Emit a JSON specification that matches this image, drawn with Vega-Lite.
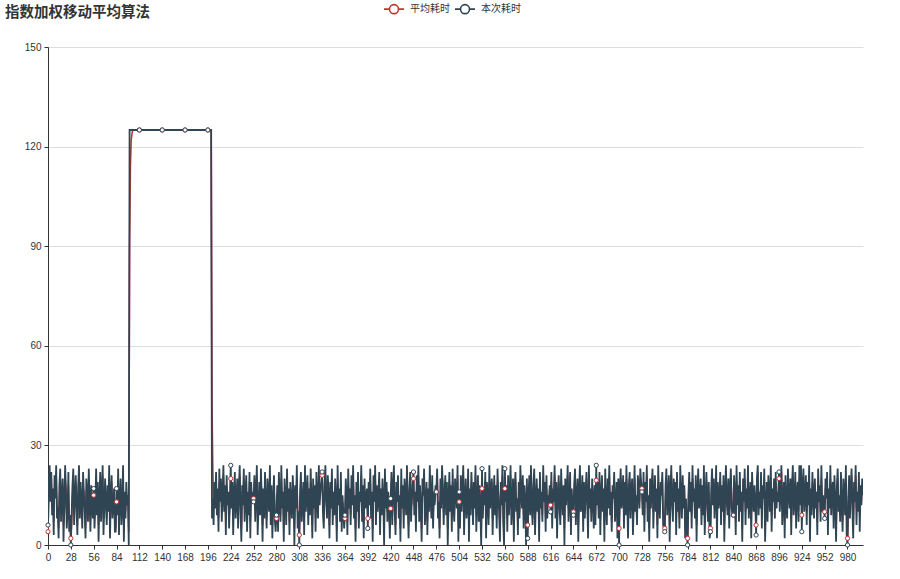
{
"$schema":"https://vega.github.io/schema/vega-lite/v6.json",
"width":815,"height":498,
"autosize":{"type":"none"},
"padding":{"left":48,"top":47,"right":37,"bottom":34},
"background":"white",
"title":{"text":"指数加权移动平均算法","anchor":"start","frame":"group","dx":-43,"dy":22,"offset":0,"fontSize":14.5,"fontWeight":"bold","font":"Noto Sans CJK SC","color":"#333"},
"data":{"values":[
{"x":0,"c":6,"a":4},{"x":1,"c":19,"a":15},{"x":2,"c":24,"a":21},{"x":3,"c":13,"a":15},{"x":4,"c":22,"a":20},{"x":5,"c":9,"a":12},{"x":6,"c":17,"a":16},{"x":7,"c":3,"a":7},{"x":8,"c":21,"a":17},{"x":9,"c":14,"a":15},
{"x":10,"c":24,"a":21},{"x":11,"c":8,"a":12},{"x":12,"c":11,"a":11},{"x":13,"c":2,"a":5},{"x":14,"c":18,"a":14},{"x":15,"c":23,"a":20},{"x":16,"c":7,"a":11},{"x":17,"c":15,"a":14},{"x":18,"c":20,"a":18},{"x":19,"c":1,"a":6},
{"x":20,"c":12,"a":10},{"x":21,"c":24,"a":20},{"x":22,"c":16,"a":17},{"x":23,"c":5,"a":9},{"x":24,"c":10,"a":10},{"x":25,"c":22,"a":18},{"x":26,"c":4,"a":8},{"x":27,"c":9,"a":9},{"x":28,"c":0,"a":2},{"x":29,"c":9,"a":7},
{"x":30,"c":18,"a":15},{"x":31,"c":23,"a":21},{"x":32,"c":6,"a":11},{"x":33,"c":14,"a":13},{"x":34,"c":21,"a":19},{"x":35,"c":11,"a":13},{"x":36,"c":3,"a":6},{"x":37,"c":17,"a":14},{"x":38,"c":24,"a":21},{"x":39,"c":8,"a":12},
{"x":40,"c":19,"a":17},{"x":41,"c":12,"a":14},{"x":42,"c":5,"a":8},{"x":43,"c":22,"a":18},{"x":44,"c":15,"a":16},{"x":45,"c":10,"a":12},{"x":46,"c":2,"a":5},{"x":47,"c":20,"a":16},{"x":48,"c":16,"a":16},{"x":49,"c":7,"a":10},
{"x":50,"c":23,"a":19},{"x":51,"c":13,"a":15},{"x":52,"c":4,"a":7},{"x":53,"c":18,"a":15},{"x":54,"c":11,"a":12},{"x":55,"c":8,"a":9},{"x":56,"c":17,"a":15},{"x":57,"c":5,"a":8},{"x":58,"c":12,"a":11},{"x":59,"c":23,"a":19},
{"x":60,"c":9,"a":12},{"x":61,"c":19,"a":17},{"x":62,"c":1,"a":6},{"x":63,"c":14,"a":12},{"x":64,"c":22,"a":19},{"x":65,"c":7,"a":11},{"x":66,"c":16,"a":15},{"x":67,"c":24,"a":21},{"x":68,"c":3,"a":8},{"x":69,"c":11,"a":10},
{"x":70,"c":20,"a":17},{"x":71,"c":13,"a":14},{"x":72,"c":6,"a":8},{"x":73,"c":18,"a":15},{"x":74,"c":10,"a":12},{"x":75,"c":24,"a":20},{"x":76,"c":2,"a":7},{"x":77,"c":15,"a":13},{"x":78,"c":21,"a":19},{"x":79,"c":8,"a":11},
{"x":80,"c":12,"a":12},{"x":81,"c":17,"a":16},{"x":82,"c":4,"a":8},{"x":83,"c":4,"a":5},{"x":84,"c":17,"a":13},{"x":85,"c":9,"a":10},{"x":86,"c":23,"a":19},{"x":87,"c":3,"a":8},{"x":88,"c":14,"a":12},{"x":89,"c":20,"a":18},
{"x":90,"c":6,"a":10},{"x":91,"c":11,"a":11},{"x":92,"c":24,"a":20},{"x":93,"c":1,"a":7},{"x":94,"c":16,"a":13},{"x":95,"c":8,"a":10},{"x":96,"c":19,"a":16},{"x":97,"c":12,"a":13},{"x":98,"c":15,"a":14},{"x":99,"c":0,"a":4},
{"x":100,"c":125,"a":89},{"x":101,"c":125,"a":114},{"x":102,"c":125,"a":122},{"x":103,"c":125,"a":124},{"x":104,"c":125,"a":125},{"x":105,"c":125,"a":125},{"x":106,"c":125,"a":125},{"x":107,"c":125,"a":125},{"x":108,"c":125,"a":125},{"x":109,"c":125,"a":125},
{"x":110,"c":125,"a":125},{"x":111,"c":125,"a":125},{"x":112,"c":125,"a":125},{"x":113,"c":125,"a":125},{"x":114,"c":125,"a":125},{"x":115,"c":125,"a":125},{"x":116,"c":125,"a":125},{"x":117,"c":125,"a":125},{"x":118,"c":125,"a":125},{"x":119,"c":125,"a":125},
{"x":120,"c":125,"a":125},{"x":121,"c":125,"a":125},{"x":122,"c":125,"a":125},{"x":123,"c":125,"a":125},{"x":124,"c":125,"a":125},{"x":125,"c":125,"a":125},{"x":126,"c":125,"a":125},{"x":127,"c":125,"a":125},{"x":128,"c":125,"a":125},{"x":129,"c":125,"a":125},
{"x":130,"c":125,"a":125},{"x":131,"c":125,"a":125},{"x":132,"c":125,"a":125},{"x":133,"c":125,"a":125},{"x":134,"c":125,"a":125},{"x":135,"c":125,"a":125},{"x":136,"c":125,"a":125},{"x":137,"c":125,"a":125},{"x":138,"c":125,"a":125},{"x":139,"c":125,"a":125},
{"x":140,"c":125,"a":125},{"x":141,"c":125,"a":125},{"x":142,"c":125,"a":125},{"x":143,"c":125,"a":125},{"x":144,"c":125,"a":125},{"x":145,"c":125,"a":125},{"x":146,"c":125,"a":125},{"x":147,"c":125,"a":125},{"x":148,"c":125,"a":125},{"x":149,"c":125,"a":125},
{"x":150,"c":125,"a":125},{"x":151,"c":125,"a":125},{"x":152,"c":125,"a":125},{"x":153,"c":125,"a":125},{"x":154,"c":125,"a":125},{"x":155,"c":125,"a":125},{"x":156,"c":125,"a":125},{"x":157,"c":125,"a":125},{"x":158,"c":125,"a":125},{"x":159,"c":125,"a":125},
{"x":160,"c":125,"a":125},{"x":161,"c":125,"a":125},{"x":162,"c":125,"a":125},{"x":163,"c":125,"a":125},{"x":164,"c":125,"a":125},{"x":165,"c":125,"a":125},{"x":166,"c":125,"a":125},{"x":167,"c":125,"a":125},{"x":168,"c":125,"a":125},{"x":169,"c":125,"a":125},
{"x":170,"c":125,"a":125},{"x":171,"c":125,"a":125},{"x":172,"c":125,"a":125},{"x":173,"c":125,"a":125},{"x":174,"c":125,"a":125},{"x":175,"c":125,"a":125},{"x":176,"c":125,"a":125},{"x":177,"c":125,"a":125},{"x":178,"c":125,"a":125},{"x":179,"c":125,"a":125},
{"x":180,"c":125,"a":125},{"x":181,"c":125,"a":125},{"x":182,"c":125,"a":125},{"x":183,"c":125,"a":125},{"x":184,"c":125,"a":125},{"x":185,"c":125,"a":125},{"x":186,"c":125,"a":125},{"x":187,"c":125,"a":125},{"x":188,"c":125,"a":125},{"x":189,"c":125,"a":125},
{"x":190,"c":125,"a":125},{"x":191,"c":125,"a":125},{"x":192,"c":125,"a":125},{"x":193,"c":125,"a":125},{"x":194,"c":125,"a":125},{"x":195,"c":125,"a":125},{"x":196,"c":125,"a":125},{"x":197,"c":125,"a":125},{"x":198,"c":125,"a":125},{"x":199,"c":125,"a":125},
{"x":200,"c":125,"a":125},{"x":201,"c":8,"a":43},{"x":202,"c":14,"a":23},{"x":203,"c":6,"a":11},{"x":204,"c":19,"a":17},{"x":205,"c":11,"a":13},{"x":206,"c":22,"a":19},{"x":207,"c":9,"a":12},{"x":208,"c":17,"a":16},{"x":209,"c":4,"a":8},
{"x":210,"c":23,"a":19},{"x":211,"c":13,"a":15},{"x":212,"c":20,"a":19},{"x":213,"c":7,"a":11},{"x":214,"c":15,"a":14},{"x":215,"c":24,"a":21},{"x":216,"c":10,"a":13},{"x":217,"c":18,"a":17},{"x":218,"c":3,"a":7},{"x":219,"c":21,"a":17},
{"x":220,"c":12,"a":14},{"x":221,"c":16,"a":15},{"x":222,"c":5,"a":8},{"x":223,"c":14,"a":12},{"x":224,"c":24,"a":20},{"x":225,"c":11,"a":14},{"x":226,"c":19,"a":18},{"x":227,"c":3,"a":8},{"x":228,"c":15,"a":13},{"x":229,"c":22,"a":19},
{"x":230,"c":8,"a":11},{"x":231,"c":13,"a":12},{"x":232,"c":20,"a":18},{"x":233,"c":5,"a":9},{"x":234,"c":17,"a":15},{"x":235,"c":24,"a":21},{"x":236,"c":10,"a":13},{"x":237,"c":1,"a":5},{"x":238,"c":18,"a":14},{"x":239,"c":12,"a":13},
{"x":240,"c":23,"a":20},{"x":241,"c":7,"a":11},{"x":242,"c":14,"a":13},{"x":243,"c":21,"a":19},{"x":244,"c":4,"a":9},{"x":245,"c":16,"a":14},{"x":246,"c":9,"a":11},{"x":247,"c":22,"a":19},{"x":248,"c":2,"a":7},{"x":249,"c":19,"a":15},
{"x":250,"c":13,"a":14},{"x":251,"c":16,"a":15},{"x":252,"c":13,"a":14},{"x":253,"c":21,"a":19},{"x":254,"c":7,"a":11},{"x":255,"c":16,"a":15},{"x":256,"c":24,"a":21},{"x":257,"c":3,"a":8},{"x":258,"c":11,"a":10},{"x":259,"c":19,"a":16},
{"x":260,"c":9,"a":11},{"x":261,"c":23,"a":19},{"x":262,"c":14,"a":16},{"x":263,"c":1,"a":6},{"x":264,"c":17,"a":14},{"x":265,"c":8,"a":10},{"x":266,"c":22,"a":18},{"x":267,"c":12,"a":14},{"x":268,"c":5,"a":8},{"x":269,"c":20,"a":16},
{"x":270,"c":15,"a":15},{"x":271,"c":10,"a":12},{"x":272,"c":24,"a":20},{"x":273,"c":6,"a":10},{"x":274,"c":18,"a":16},{"x":275,"c":2,"a":6},{"x":276,"c":13,"a":11},{"x":277,"c":21,"a":18},{"x":278,"c":8,"a":11},{"x":279,"c":4,"a":6},
{"x":280,"c":9,"a":8},{"x":281,"c":18,"a":15},{"x":282,"c":4,"a":7},{"x":283,"c":22,"a":18},{"x":284,"c":13,"a":15},{"x":285,"c":7,"a":9},{"x":286,"c":24,"a":20},{"x":287,"c":11,"a":14},{"x":288,"c":16,"a":15},{"x":289,"c":1,"a":5},
{"x":290,"c":20,"a":16},{"x":291,"c":14,"a":15},{"x":292,"c":6,"a":9},{"x":293,"c":23,"a":19},{"x":294,"c":10,"a":13},{"x":295,"c":17,"a":16},{"x":296,"c":3,"a":7},{"x":297,"c":19,"a":15},{"x":298,"c":12,"a":13},{"x":299,"c":8,"a":10},
{"x":300,"c":21,"a":18},{"x":301,"c":15,"a":16},{"x":302,"c":0,"a":5},{"x":303,"c":18,"a":14},{"x":304,"c":11,"a":12},{"x":305,"c":24,"a":20},{"x":306,"c":5,"a":10},{"x":307,"c":10,"a":10},{"x":308,"c":0,"a":3},{"x":309,"c":16,"a":12},
{"x":310,"c":22,"a":19},{"x":311,"c":7,"a":11},{"x":312,"c":12,"a":12},{"x":313,"c":19,"a":17},{"x":314,"c":3,"a":7},{"x":315,"c":24,"a":19},{"x":316,"c":10,"a":13},{"x":317,"c":15,"a":14},{"x":318,"c":21,"a":19},{"x":319,"c":6,"a":10},
{"x":320,"c":17,"a":15},{"x":321,"c":9,"a":11},{"x":322,"c":23,"a":19},{"x":323,"c":13,"a":15},{"x":324,"c":2,"a":6},{"x":325,"c":20,"a":16},{"x":326,"c":11,"a":13},{"x":327,"c":18,"a":17},{"x":328,"c":4,"a":8},{"x":329,"c":22,"a":18},
{"x":330,"c":14,"a":15},{"x":331,"c":8,"a":10},{"x":332,"c":24,"a":20},{"x":333,"c":12,"a":14},{"x":334,"c":17,"a":16},{"x":335,"c":19,"a":18},{"x":336,"c":22,"a":21},{"x":337,"c":10,"a":13},{"x":338,"c":5,"a":7},{"x":339,"c":18,"a":15},
{"x":340,"c":24,"a":21},{"x":341,"c":13,"a":15},{"x":342,"c":8,"a":10},{"x":343,"c":21,"a":18},{"x":344,"c":15,"a":16},{"x":345,"c":2,"a":6},{"x":346,"c":19,"a":15},{"x":347,"c":11,"a":12},{"x":348,"c":23,"a":20},{"x":349,"c":6,"a":10},
{"x":350,"c":16,"a":14},{"x":351,"c":9,"a":11},{"x":352,"c":20,"a":17},{"x":353,"c":14,"a":15},{"x":354,"c":1,"a":5},{"x":355,"c":24,"a":18},{"x":356,"c":12,"a":14},{"x":357,"c":17,"a":16},{"x":358,"c":7,"a":10},{"x":359,"c":22,"a":18},
{"x":360,"c":4,"a":8},{"x":361,"c":15,"a":13},{"x":362,"c":10,"a":11},{"x":363,"c":5,"a":7},{"x":364,"c":9,"a":8},{"x":365,"c":20,"a":16},{"x":366,"c":14,"a":15},{"x":367,"c":3,"a":7},{"x":368,"c":23,"a":18},{"x":369,"c":11,"a":13},
{"x":370,"c":17,"a":16},{"x":371,"c":6,"a":9},{"x":372,"c":21,"a":17},{"x":373,"c":12,"a":14},{"x":374,"c":24,"a":21},{"x":375,"c":8,"a":12},{"x":376,"c":15,"a":14},{"x":377,"c":1,"a":5},{"x":378,"c":19,"a":15},{"x":379,"c":10,"a":12},
{"x":380,"c":22,"a":19},{"x":381,"c":5,"a":9},{"x":382,"c":16,"a":14},{"x":383,"c":13,"a":13},{"x":384,"c":24,"a":21},{"x":385,"c":7,"a":11},{"x":386,"c":18,"a":16},{"x":387,"c":2,"a":6},{"x":388,"c":20,"a":16},{"x":389,"c":11,"a":13},
{"x":390,"c":14,"a":14},{"x":391,"c":17,"a":16},{"x":392,"c":5,"a":8},{"x":393,"c":19,"a":16},{"x":394,"c":12,"a":13},{"x":395,"c":23,"a":20},{"x":396,"c":8,"a":12},{"x":397,"c":16,"a":15},{"x":398,"c":1,"a":5},{"x":399,"c":21,"a":16},
{"x":400,"c":13,"a":14},{"x":401,"c":24,"a":21},{"x":402,"c":6,"a":11},{"x":403,"c":18,"a":16},{"x":404,"c":10,"a":12},{"x":405,"c":15,"a":14},{"x":406,"c":22,"a":20},{"x":407,"c":3,"a":8},{"x":408,"c":17,"a":14},{"x":409,"c":9,"a":11},
{"x":410,"c":20,"a":17},{"x":411,"c":14,"a":15},{"x":412,"c":0,"a":5},{"x":413,"c":23,"a":18},{"x":414,"c":11,"a":13},{"x":415,"c":19,"a":17},{"x":416,"c":7,"a":10},{"x":417,"c":16,"a":14},{"x":418,"c":12,"a":13},{"x":419,"c":2,"a":5},
{"x":420,"c":14,"a":11},{"x":421,"c":22,"a":19},{"x":422,"c":6,"a":10},{"x":423,"c":17,"a":15},{"x":424,"c":24,"a":21},{"x":425,"c":10,"a":13},{"x":426,"c":3,"a":6},{"x":427,"c":19,"a":15},{"x":428,"c":13,"a":14},{"x":429,"c":21,"a":19},
{"x":430,"c":8,"a":11},{"x":431,"c":15,"a":14},{"x":432,"c":1,"a":5},{"x":433,"c":23,"a":18},{"x":434,"c":11,"a":13},{"x":435,"c":18,"a":17},{"x":436,"c":5,"a":9},{"x":437,"c":20,"a":17},{"x":438,"c":16,"a":16},{"x":439,"c":9,"a":11},
{"x":440,"c":24,"a":20},{"x":441,"c":12,"a":14},{"x":442,"c":2,"a":6},{"x":443,"c":17,"a":14},{"x":444,"c":22,"a":20},{"x":445,"c":7,"a":11},{"x":446,"c":14,"a":13},{"x":447,"c":19,"a":17},{"x":448,"c":22,"a":20},{"x":449,"c":9,"a":12},
{"x":450,"c":16,"a":15},{"x":451,"c":4,"a":7},{"x":452,"c":21,"a":17},{"x":453,"c":13,"a":14},{"x":454,"c":24,"a":21},{"x":455,"c":7,"a":11},{"x":456,"c":18,"a":16},{"x":457,"c":11,"a":13},{"x":458,"c":1,"a":5},{"x":459,"c":20,"a":16},
{"x":460,"c":15,"a":15},{"x":461,"c":23,"a":21},{"x":462,"c":6,"a":11},{"x":463,"c":12,"a":12},{"x":464,"c":19,"a":17},{"x":465,"c":3,"a":7},{"x":466,"c":17,"a":14},{"x":467,"c":10,"a":11},{"x":468,"c":24,"a":20},{"x":469,"c":14,"a":16},
{"x":470,"c":8,"a":10},{"x":471,"c":21,"a":18},{"x":472,"c":5,"a":9},{"x":473,"c":16,"a":14},{"x":474,"c":12,"a":13},{"x":475,"c":18,"a":17},{"x":476,"c":16,"a":16},{"x":477,"c":23,"a":21},{"x":478,"c":8,"a":12},{"x":479,"c":13,"a":13},
{"x":480,"c":2,"a":5},{"x":481,"c":20,"a":16},{"x":482,"c":11,"a":13},{"x":483,"c":24,"a":21},{"x":484,"c":17,"a":18},{"x":485,"c":6,"a":10},{"x":486,"c":15,"a":14},{"x":487,"c":21,"a":19},{"x":488,"c":9,"a":12},{"x":489,"c":19,"a":17},
{"x":490,"c":0,"a":5},{"x":491,"c":14,"a":11},{"x":492,"c":22,"a":19},{"x":493,"c":10,"a":13},{"x":494,"c":18,"a":17},{"x":495,"c":4,"a":8},{"x":496,"c":23,"a":19},{"x":497,"c":12,"a":14},{"x":498,"c":7,"a":9},{"x":499,"c":20,"a":17},
{"x":500,"c":16,"a":16},{"x":501,"c":11,"a":13},{"x":502,"c":24,"a":21},{"x":503,"c":1,"a":7},{"x":504,"c":16,"a":13},{"x":505,"c":5,"a":7},{"x":506,"c":21,"a":17},{"x":507,"c":10,"a":12},{"x":508,"c":18,"a":16},{"x":509,"c":24,"a":22},
{"x":510,"c":3,"a":9},{"x":511,"c":14,"a":13},{"x":512,"c":20,"a":18},{"x":513,"c":8,"a":11},{"x":514,"c":12,"a":12},{"x":515,"c":23,"a":20},{"x":516,"c":1,"a":7},{"x":517,"c":17,"a":14},{"x":518,"c":9,"a":11},{"x":519,"c":22,"a":19},
{"x":520,"c":15,"a":16},{"x":521,"c":6,"a":9},{"x":522,"c":19,"a":16},{"x":523,"c":11,"a":13},{"x":524,"c":24,"a":21},{"x":525,"c":4,"a":9},{"x":526,"c":13,"a":12},{"x":527,"c":21,"a":18},{"x":528,"c":7,"a":10},{"x":529,"c":18,"a":16},
{"x":530,"c":10,"a":12},{"x":531,"c":0,"a":4},{"x":532,"c":23,"a":17},{"x":533,"c":8,"a":11},{"x":534,"c":17,"a":15},{"x":535,"c":12,"a":13},{"x":536,"c":22,"a":19},{"x":537,"c":2,"a":7},{"x":538,"c":19,"a":15},{"x":539,"c":14,"a":14},
{"x":540,"c":6,"a":8},{"x":541,"c":24,"a":19},{"x":542,"c":11,"a":13},{"x":543,"c":16,"a":15},{"x":544,"c":20,"a":19},{"x":545,"c":3,"a":8},{"x":546,"c":13,"a":12},{"x":547,"c":21,"a":18},{"x":548,"c":9,"a":12},{"x":549,"c":18,"a":16},
{"x":550,"c":5,"a":8},{"x":551,"c":23,"a":19},{"x":552,"c":15,"a":16},{"x":553,"c":10,"a":12},{"x":554,"c":1,"a":4},{"x":555,"c":19,"a":15},{"x":556,"c":12,"a":13},{"x":557,"c":24,"a":21},{"x":558,"c":7,"a":11},{"x":559,"c":0,"a":3},
{"x":560,"c":23,"a":17},{"x":561,"c":13,"a":14},{"x":562,"c":18,"a":17},{"x":563,"c":4,"a":8},{"x":564,"c":21,"a":17},{"x":565,"c":9,"a":11},{"x":566,"c":15,"a":14},{"x":567,"c":24,"a":21},{"x":568,"c":6,"a":11},{"x":569,"c":12,"a":12},
{"x":570,"c":20,"a":18},{"x":571,"c":1,"a":6},{"x":572,"c":17,"a":14},{"x":573,"c":22,"a":20},{"x":574,"c":10,"a":13},{"x":575,"c":14,"a":14},{"x":576,"c":3,"a":6},{"x":577,"c":19,"a":15},{"x":578,"c":8,"a":10},{"x":579,"c":24,"a":20},
{"x":580,"c":16,"a":17},{"x":581,"c":11,"a":13},{"x":582,"c":21,"a":19},{"x":583,"c":5,"a":9},{"x":584,"c":18,"a":15},{"x":585,"c":13,"a":14},{"x":586,"c":0,"a":4},{"x":587,"c":20,"a":15},{"x":588,"c":2,"a":6},{"x":589,"c":15,"a":12},
{"x":590,"c":21,"a":18},{"x":591,"c":9,"a":12},{"x":592,"c":24,"a":20},{"x":593,"c":12,"a":14},{"x":594,"c":6,"a":8},{"x":595,"c":18,"a":15},{"x":596,"c":23,"a":21},{"x":597,"c":3,"a":8},{"x":598,"c":14,"a":12},{"x":599,"c":20,"a":18},
{"x":600,"c":10,"a":12},{"x":601,"c":17,"a":16},{"x":602,"c":1,"a":6},{"x":603,"c":22,"a":17},{"x":604,"c":11,"a":13},{"x":605,"c":16,"a":15},{"x":606,"c":7,"a":9},{"x":607,"c":24,"a":20},{"x":608,"c":13,"a":15},{"x":609,"c":19,"a":18},
{"x":610,"c":4,"a":8},{"x":611,"c":21,"a":17},{"x":612,"c":8,"a":11},{"x":613,"c":15,"a":14},{"x":614,"c":12,"a":13},{"x":615,"c":18,"a":17},{"x":616,"c":10,"a":12},{"x":617,"c":22,"a":19},{"x":618,"c":5,"a":9},{"x":619,"c":17,"a":15},
{"x":620,"c":13,"a":14},{"x":621,"c":24,"a":21},{"x":622,"c":8,"a":12},{"x":623,"c":19,"a":17},{"x":624,"c":2,"a":7},{"x":625,"c":15,"a":13},{"x":626,"c":21,"a":19},{"x":627,"c":11,"a":13},{"x":628,"c":6,"a":8},{"x":629,"c":23,"a":19},
{"x":630,"c":14,"a":16},{"x":631,"c":9,"a":11},{"x":632,"c":18,"a":16},{"x":633,"c":0,"a":5},{"x":634,"c":20,"a":16},{"x":635,"c":12,"a":13},{"x":636,"c":16,"a":15},{"x":637,"c":24,"a":21},{"x":638,"c":7,"a":11},{"x":639,"c":13,"a":12},
{"x":640,"c":22,"a":19},{"x":641,"c":3,"a":8},{"x":642,"c":17,"a":14},{"x":643,"c":11,"a":12},{"x":644,"c":9,"a":10},{"x":645,"c":18,"a":16},{"x":646,"c":23,"a":21},{"x":647,"c":6,"a":11},{"x":648,"c":14,"a":13},{"x":649,"c":20,"a":18},
{"x":650,"c":1,"a":6},{"x":651,"c":16,"a":13},{"x":652,"c":24,"a":21},{"x":653,"c":10,"a":13},{"x":654,"c":12,"a":12},{"x":655,"c":21,"a":18},{"x":656,"c":4,"a":8},{"x":657,"c":19,"a":16},{"x":658,"c":8,"a":10},{"x":659,"c":15,"a":14},
{"x":660,"c":22,"a":20},{"x":661,"c":13,"a":15},{"x":662,"c":2,"a":6},{"x":663,"c":24,"a":19},{"x":664,"c":11,"a":13},{"x":665,"c":17,"a":16},{"x":666,"c":7,"a":10},{"x":667,"c":20,"a":17},{"x":668,"c":14,"a":15},{"x":669,"c":5,"a":8},
{"x":670,"c":18,"a":15},{"x":671,"c":6,"a":9},{"x":672,"c":24,"a":19.5},{"x":673,"c":12,"a":14},{"x":674,"c":19,"a":18},{"x":675,"c":8,"a":11},{"x":676,"c":22,"a":19},{"x":677,"c":3,"a":8},{"x":678,"c":15,"a":13},{"x":679,"c":21,"a":19},
{"x":680,"c":10,"a":13},{"x":681,"c":17,"a":16},{"x":682,"c":1,"a":6},{"x":683,"c":23,"a":18},{"x":684,"c":13,"a":15},{"x":685,"c":6,"a":9},{"x":686,"c":20,"a":17},{"x":687,"c":11,"a":13},{"x":688,"c":24,"a":21},{"x":689,"c":9,"a":13},
{"x":690,"c":16,"a":15},{"x":691,"c":4,"a":7},{"x":692,"c":18,"a":15},{"x":693,"c":14,"a":14},{"x":694,"c":22,"a":20},{"x":695,"c":7,"a":11},{"x":696,"c":12,"a":12},{"x":697,"c":19,"a":17},{"x":698,"c":2,"a":7},{"x":699,"c":20,"a":16},
{"x":700,"c":0,"a":5},{"x":701,"c":17,"a":13},{"x":702,"c":23,"a":20},{"x":703,"c":11,"a":14},{"x":704,"c":14,"a":14},{"x":705,"c":21,"a":19},{"x":706,"c":5,"a":9},{"x":707,"c":19,"a":16},{"x":708,"c":9,"a":11},{"x":709,"c":24,"a":20},
{"x":710,"c":13,"a":15},{"x":711,"c":2,"a":6},{"x":712,"c":18,"a":14},{"x":713,"c":22,"a":20},{"x":714,"c":8,"a":12},{"x":715,"c":16,"a":15},{"x":716,"c":20,"a":19},{"x":717,"c":3,"a":8},{"x":718,"c":12,"a":11},{"x":719,"c":24,"a":20},
{"x":720,"c":10,"a":13},{"x":721,"c":15,"a":14},{"x":722,"c":6,"a":8},{"x":723,"c":21,"a":17},{"x":724,"c":17,"a":17},{"x":725,"c":11,"a":13},{"x":726,"c":23,"a":20},{"x":727,"c":19,"a":19},{"x":728,"c":16,"a":17},{"x":729,"c":9,"a":11},
{"x":730,"c":22,"a":19},{"x":731,"c":4,"a":9},{"x":732,"c":19,"a":16},{"x":733,"c":13,"a":14},{"x":734,"c":24,"a":21},{"x":735,"c":7,"a":11},{"x":736,"c":15,"a":14},{"x":737,"c":1,"a":5},{"x":738,"c":20,"a":16},{"x":739,"c":11,"a":13},
{"x":740,"c":18,"a":17},{"x":741,"c":23,"a":21},{"x":742,"c":5,"a":10},{"x":743,"c":14,"a":13},{"x":744,"c":21,"a":19},{"x":745,"c":10,"a":13},{"x":746,"c":17,"a":16},{"x":747,"c":2,"a":6},{"x":748,"c":24,"a":19},{"x":749,"c":12,"a":14},
{"x":750,"c":8,"a":10},{"x":751,"c":19,"a":16},{"x":752,"c":15,"a":15},{"x":753,"c":22,"a":20},{"x":754,"c":6,"a":10},{"x":755,"c":5,"a":7},{"x":756,"c":4,"a":5},{"x":757,"c":18,"a":14},{"x":758,"c":23,"a":20},{"x":759,"c":9,"a":12},
{"x":760,"c":14,"a":13},{"x":761,"c":21,"a":19},{"x":762,"c":1,"a":6},{"x":763,"c":16,"a":13},{"x":764,"c":24,"a":21},{"x":765,"c":12,"a":15},{"x":766,"c":7,"a":9},{"x":767,"c":20,"a":17},{"x":768,"c":13,"a":14},{"x":769,"c":19,"a":18},
{"x":770,"c":3,"a":8},{"x":771,"c":22,"a":18},{"x":772,"c":10,"a":12},{"x":773,"c":17,"a":16},{"x":774,"c":5,"a":8},{"x":775,"c":24,"a":19},{"x":776,"c":15,"a":16},{"x":777,"c":8,"a":10},{"x":778,"c":21,"a":18},{"x":779,"c":11,"a":13},
{"x":780,"c":18,"a":17},{"x":781,"c":2,"a":7},{"x":782,"c":14,"a":12},{"x":783,"c":6,"a":8},{"x":784,"c":0,"a":2},{"x":785,"c":15,"a":11},{"x":786,"c":22,"a":19},{"x":787,"c":10,"a":13},{"x":788,"c":19,"a":17},{"x":789,"c":5,"a":9},
{"x":790,"c":24,"a":20},{"x":791,"c":13,"a":15},{"x":792,"c":17,"a":16},{"x":793,"c":8,"a":10},{"x":794,"c":21,"a":18},{"x":795,"c":1,"a":6},{"x":796,"c":16,"a":13},{"x":797,"c":23,"a":20},{"x":798,"c":11,"a":14},{"x":799,"c":14,"a":14},
{"x":800,"c":20,"a":18},{"x":801,"c":6,"a":10},{"x":802,"c":18,"a":16},{"x":803,"c":9,"a":11},{"x":804,"c":24,"a":20},{"x":805,"c":3,"a":8},{"x":806,"c":12,"a":11},{"x":807,"c":22,"a":19},{"x":808,"c":15,"a":16},{"x":809,"c":7,"a":10},
{"x":810,"c":19,"a":16},{"x":811,"c":2,"a":6},{"x":812,"c":4,"a":5},{"x":813,"c":17,"a":13},{"x":814,"c":23,"a":20},{"x":815,"c":12,"a":14},{"x":816,"c":20,"a":18},{"x":817,"c":8,"a":11},{"x":818,"c":15,"a":14},{"x":819,"c":24,"a":21},
{"x":820,"c":2,"a":8},{"x":821,"c":19,"a":16},{"x":822,"c":11,"a":13},{"x":823,"c":14,"a":14},{"x":824,"c":22,"a":20},{"x":825,"c":6,"a":10},{"x":826,"c":18,"a":16},{"x":827,"c":10,"a":12},{"x":828,"c":21,"a":18},{"x":829,"c":1,"a":6},
{"x":830,"c":16,"a":13},{"x":831,"c":24,"a":21},{"x":832,"c":13,"a":15},{"x":833,"c":9,"a":11},{"x":834,"c":20,"a":17},{"x":835,"c":5,"a":9},{"x":836,"c":17,"a":15},{"x":837,"c":23,"a":21},{"x":838,"c":11,"a":14},{"x":839,"c":9,"a":10},
{"x":840,"c":9,"a":9},{"x":841,"c":21,"a":17},{"x":842,"c":15,"a":16},{"x":843,"c":3,"a":7},{"x":844,"c":24,"a":19},{"x":845,"c":12,"a":14},{"x":846,"c":18,"a":17},{"x":847,"c":7,"a":10},{"x":848,"c":22,"a":18},{"x":849,"c":10,"a":12},
{"x":850,"c":16,"a":15},{"x":851,"c":1,"a":5},{"x":852,"c":20,"a":16},{"x":853,"c":13,"a":14},{"x":854,"c":23,"a":20},{"x":855,"c":6,"a":10},{"x":856,"c":17,"a":15},{"x":857,"c":11,"a":12},{"x":858,"c":24,"a":20},{"x":859,"c":8,"a":12},
{"x":860,"c":14,"a":13},{"x":861,"c":19,"a":17},{"x":862,"c":2,"a":7},{"x":863,"c":22,"a":18},{"x":864,"c":15,"a":16},{"x":865,"c":10,"a":12},{"x":866,"c":18,"a":16},{"x":867,"c":12,"a":13},{"x":868,"c":3,"a":6},{"x":869,"c":20,"a":16},
{"x":870,"c":24,"a":22},{"x":871,"c":9,"a":13},{"x":872,"c":16,"a":15},{"x":873,"c":11,"a":12},{"x":874,"c":22,"a":19},{"x":875,"c":5,"a":9},{"x":876,"c":18,"a":15},{"x":877,"c":14,"a":14},{"x":878,"c":23,"a":20},{"x":879,"c":1,"a":7},
{"x":880,"c":12,"a":11},{"x":881,"c":19,"a":17},{"x":882,"c":7,"a":10},{"x":883,"c":21,"a":18},{"x":884,"c":15,"a":16},{"x":885,"c":10,"a":12},{"x":886,"c":24,"a":20},{"x":887,"c":4,"a":9},{"x":888,"c":17,"a":15},{"x":889,"c":13,"a":14},
{"x":890,"c":20,"a":18},{"x":891,"c":8,"a":11},{"x":892,"c":22,"a":19},{"x":893,"c":11,"a":13},{"x":894,"c":16,"a":15},{"x":895,"c":13,"a":14},{"x":896,"c":22,"a":20},{"x":897,"c":10,"a":13},{"x":898,"c":17,"a":16},{"x":899,"c":24,"a":22},
{"x":900,"c":6,"a":11},{"x":901,"c":14,"a":13},{"x":902,"c":19,"a":17},{"x":903,"c":2,"a":7},{"x":904,"c":21,"a":17},{"x":905,"c":12,"a":14},{"x":906,"c":8,"a":10},{"x":907,"c":23,"a":19},{"x":908,"c":15,"a":16},{"x":909,"c":11,"a":13},
{"x":910,"c":20,"a":18},{"x":911,"c":3,"a":8},{"x":912,"c":18,"a":15},{"x":913,"c":24,"a":21},{"x":914,"c":9,"a":13},{"x":915,"c":13,"a":13},{"x":916,"c":22,"a":19},{"x":917,"c":5,"a":9},{"x":918,"c":16,"a":14},{"x":919,"c":19,"a":18},
{"x":920,"c":7,"a":10},{"x":921,"c":24,"a":20},{"x":922,"c":12,"a":14},{"x":923,"c":24,"a":21},{"x":924,"c":4,"a":9},{"x":925,"c":18,"a":15},{"x":926,"c":23,"a":21},{"x":927,"c":10,"a":13},{"x":928,"c":15,"a":14},{"x":929,"c":21,"a":19},
{"x":930,"c":6,"a":10},{"x":931,"c":19,"a":16},{"x":932,"c":12,"a":13},{"x":933,"c":24,"a":21},{"x":934,"c":1,"a":7},{"x":935,"c":17,"a":14},{"x":936,"c":9,"a":11},{"x":937,"c":22,"a":19},{"x":938,"c":14,"a":16},{"x":939,"c":8,"a":10},
{"x":940,"c":20,"a":17},{"x":941,"c":11,"a":13},{"x":942,"c":16,"a":15},{"x":943,"c":3,"a":7},{"x":944,"c":23,"a":18},{"x":945,"c":13,"a":15},{"x":946,"c":18,"a":17},{"x":947,"c":7,"a":10},{"x":948,"c":24,"a":20},{"x":949,"c":10,"a":13},
{"x":950,"c":15,"a":14},{"x":951,"c":12,"a":13},{"x":952,"c":8,"a":10},{"x":953,"c":20,"a":17},{"x":954,"c":14,"a":15},{"x":955,"c":22,"a":20},{"x":956,"c":3,"a":8},{"x":957,"c":17,"a":14},{"x":958,"c":11,"a":12},{"x":959,"c":24,"a":20},
{"x":960,"c":9,"a":12},{"x":961,"c":16,"a":15},{"x":962,"c":19,"a":18},{"x":963,"c":5,"a":9},{"x":964,"c":21,"a":17},{"x":965,"c":13,"a":14},{"x":966,"c":1,"a":5},{"x":967,"c":18,"a":14},{"x":968,"c":23,"a":20},{"x":969,"c":10,"a":13},
{"x":970,"c":15,"a":14},{"x":971,"c":7,"a":9},{"x":972,"c":22,"a":18},{"x":973,"c":12,"a":14},{"x":974,"c":4,"a":7},{"x":975,"c":20,"a":16},{"x":976,"c":16,"a":16},{"x":977,"c":9,"a":11},{"x":978,"c":24,"a":20},{"x":979,"c":3,"a":8},
{"x":980,"c":0,"a":2},{"x":981,"c":14,"a":10},{"x":982,"c":21,"a":18},{"x":983,"c":8,"a":11},{"x":984,"c":17,"a":15},{"x":985,"c":23,"a":21},{"x":986,"c":11,"a":14},{"x":987,"c":2,"a":6},{"x":988,"c":19,"a":15},{"x":989,"c":13,"a":14},
{"x":990,"c":24,"a":21},{"x":991,"c":6,"a":11},{"x":992,"c":16,"a":15},{"x":993,"c":10,"a":12},{"x":994,"c":22,"a":19},{"x":995,"c":4,"a":9},{"x":996,"c":18,"a":15},{"x":997,"c":12,"a":13},{"x":998,"c":20,"a":18},{"x":999,"c":15,"a":16}
]},
"encoding":{
"x":{"field":"x","type":"quantitative","scale":{"domain":[0,999],"nice":false,"zero":false},
"axis":{"values":[0,28,56,84,112,140,168,196,224,252,280,308,336,364,392,420,448,476,504,532,560,588,616,644,672,700,728,756,784,812,840,868,896,924,952,980],"format":"d","title":null,"grid":false,"labelOverlap":false,"labelFlush":false}}
},
"layer":[
{"mark":{"type":"line","strokeWidth":1.6,"clip":true},
 "encoding":{"y":{"field":"a","type":"quantitative","scale":{"domain":[0,150],"nice":false},"axis":{"values":[0,30,60,90,120,150],"title":null,"grid":true}},
 "color":{"datum":"平均耗时","type":"nominal","scale":{"domain":["平均耗时","本次耗时"],"range":["#c23531","#2f4554"]},
 "legend":{"orient":"none","legendX":335,"legendY":-49,"direction":"horizontal","title":null,"symbolType":"M-1,0H-0.45M0.45,0H1M0.45,0A0.45,0.45,0,1,1,-0.45,0A0.45,0.45,0,1,1,0.45,0","symbolSize":400,"symbolStrokeWidth":1.6,"symbolFillColor":"#fff","labelFontSize":10,"labelColor":"#333","labelFont":"Noto Sans CJK SC","columnPadding":1,"labelOffset":5}}}},
{"mark":{"type":"line","strokeWidth":1.8,"clip":true},
 "encoding":{"y":{"field":"c","type":"quantitative","scale":{"domain":[0,150],"nice":false},"axis":{"values":[0,30,60,90,120,150],"title":null,"grid":true}},
 "color":{"datum":"本次耗时","type":"nominal"}}},
{"transform":[{"filter":"datum.x % 28 == 0"}],
 "mark":{"type":"point","filled":true,"fill":"#fff","stroke":"#c23531","strokeWidth":1,"size":18,"opacity":1},
 "encoding":{"y":{"field":"a","type":"quantitative"}}},
{"transform":[{"filter":"datum.x % 28 == 0"}],
 "mark":{"type":"point","filled":true,"fill":"#fff","stroke":"#2f4554","strokeWidth":1,"size":18,"opacity":1},
 "encoding":{"y":{"field":"c","type":"quantitative"}}}
],
"config":{
"view":{"stroke":null},
"axis":{"labelFont":"Liberation Sans","labelFontSize":10,"labelColor":"#333","tickColor":"#333","domainColor":"#333","tickSize":4,"labelPadding":3,"gridColor":"#ddd","gridWidth":1}
}
}
